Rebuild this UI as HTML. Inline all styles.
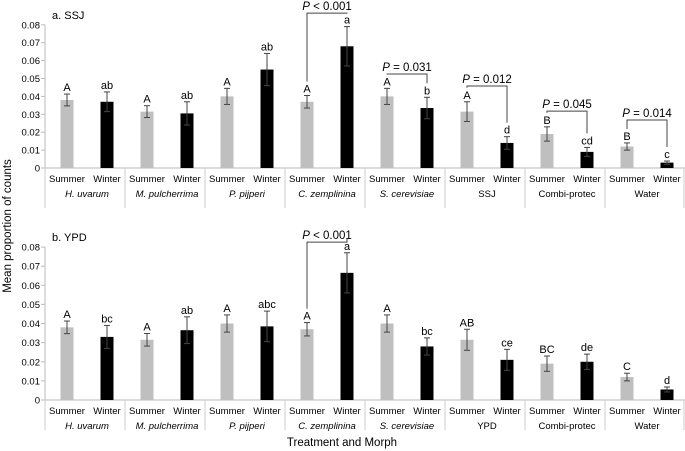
<!DOCTYPE html>
<html><head><meta charset="utf-8"><style>
html,body{margin:0;padding:0;background:#fff}
svg{display:block;font-family:"Liberation Sans",Arial,sans-serif}
</style></head><body>
<svg id="chart" width="685" height="451" viewBox="0 0 685 451"></svg>
<script>
const groups=["H. uvarum","M. pulcherrima","P. pijperi","C. zemplinina","S. cerevisiae","SSJ","Combi-protec","Water"];
const italicGroups=[true,true,true,true,true,false,false,false];
const groupsB=["H. uvarum","M. pulcherrima","P. pijperi","C. zemplinina","S. cerevisiae","YPD","Combi-protec","Water"];
const yTicks=[0,0.01,0.02,0.03,0.04,0.05,0.06,0.07,0.08];
const yTickLabels=["0","0.01","0.02","0.03","0.04","0.05","0.06","0.07","0.08"];
const aSummer=[0.038,0.0315,0.040,0.037,0.040,0.0315,0.019,0.012];
const aSummerErr=[0.0033,0.0033,0.0045,0.0035,0.0045,0.0055,0.004,0.002];
const aWinter=[0.037,0.0305,0.055,0.068,0.0335,0.014,0.009,0.003];
const aWinterErr=[0.0055,0.0065,0.009,0.011,0.006,0.0035,0.0025,0.0009];
const aSummerLbl=["A","A","A","A","A","A","B","B"];
const aWinterLbl=["ab","ab","ab","a","b","d","cd","c"];
const aBrackets=[{g:3,text:"< 0.001",y:0.0865},{g:4,text:"= 0.031",y:0.0525},{g:5,text:"= 0.012",y:0.0458},{g:6,text:"= 0.045",y:0.0318},{g:7,text:"= 0.014",y:0.0268}];
const bSummer=[0.038,0.0315,0.040,0.037,0.040,0.0315,0.019,0.012];
const bSummerErr=[0.0033,0.0033,0.0045,0.0035,0.0045,0.0055,0.004,0.002];
const bWinter=[0.033,0.0365,0.0385,0.0665,0.028,0.021,0.020,0.0055];
const bWinterErr=[0.006,0.007,0.008,0.0105,0.0045,0.0055,0.004,0.0013];
const bSummerLbl=["A","A","A","A","A","AB","BC","C"];
const bWinterLbl=["bc","ab","abc","a","bc","ce","de","d"];
const bBrackets=[{g:3,text:"< 0.001",y:0.0826}];

const svg=document.getElementById('chart');
const NS="http://www.w3.org/2000/svg";
function mk(tag,attrs,parent){const e=document.createElementNS(NS,tag);for(const k in attrs)e.setAttribute(k,attrs[k]);(parent||svg).appendChild(e);return e;}
const x0=45,gw=80;
function panel(p){
  const g=mk('g',{});
  
  
  const y=v=>p.zero-v*p.scale;
  mk('line',{x1:x0,x2:x0,y1:y(0.08),y2:p.zero,stroke:'#bbb'},g);
  mk('line',{x1:x0,x2:685,y1:p.zero,y2:p.zero,stroke:'#bbb'},g);
  yTicks.forEach((t,i)=>{
    mk('line',{x1:x0-4,x2:x0,y1:y(t),y2:y(t),stroke:'#bbb'},g);
    const tx=mk('text',{x:x0-5,y:y(t)+3.5,'text-anchor':'end','font-size':'9.5'},g);
    tx.textContent=yTickLabels[i];
    
    
  });
  for(let i=0;i<=8;i++){
    const xx=x0+i*gw-(i==8?1:0);
    mk('line',{x1:xx,x2:xx,y1:p.zero,y2:p.zero+p.divLen,stroke:'#ccc'},g);
  }
  p.groups.forEach((name,i)=>{
    const gx=x0+i*gw;
    [[p.s,p.se,p.sl,'#bfbfbf',22,'Summer'],[p.w,p.we,p.wl,'#000',62,'Winter']].forEach(([vals,errs,lbls,col,off,sn])=>{
      const cx=gx+off,v=vals[i],e=errs[i];
      const r=mk('rect',{x:cx-6.5,y:y(v),width:13,height:p.zero-y(v),fill:col},g);
      
      
      mk('line',{x1:cx,x2:cx,y1:y(v+e),y2:y(v-e),stroke:'#444'},g);
      mk('line',{x1:cx-3,x2:cx+3,y1:y(v+e),y2:y(v+e),stroke:'#444'},g);
      mk('line',{x1:cx-3,x2:cx+3,y1:y(v-e),y2:y(v-e),stroke:'#444'},g);
      const l=mk('text',{x:cx,y:y(v+e)-3,'text-anchor':'middle','font-size':'11'},g);
      l.textContent=lbls[i];
      
      
      const c=mk('text',{x:cx,y:p.zero+14,'text-anchor':'middle','font-size':'9.5'},g);
      c.textContent=sn;
      
      
    });
    const gl=mk('text',{x:gx+42,y:p.zero+29,'text-anchor':'middle','font-size':'9.5','font-style':italicGroups[i]?'italic':'normal'},g);
    gl.textContent=name;
    
    
  });
  p.br.forEach(b=>{
    const gx=x0+b.g*gw,x1=gx+22,x2=gx+62,by=y(b.y);
    const s1=y(p.s[b.g]+p.se[b.g])-14, s2=y(p.w[b.g]+p.we[b.g])-14;
    mk('polyline',{points:`${x1},${s1} ${x1},${by} ${x2},${by} ${x2},${s2}`,fill:'none',stroke:'#444'},g);
    const t=mk('text',{x:(x1+x2)/2,y:by-3,'text-anchor':'middle','font-size':'11.5'},g);
    t.innerHTML='<tspan font-style="italic">P</tspan> '+b.text;
    
    
  });
  const tt=mk('text',{x:52,y:p.titleY,'font-size':'11'},g);
  tt.textContent=p.title;
  
  
}
panel({name:'panel-a-ssj',zero:168,scale:1790,divLen:40,groups:groups,s:aSummer,se:aSummerErr,sl:aSummerLbl,w:aWinter,we:aWinterErr,wl:aWinterLbl,br:aBrackets,title:'a. SSJ',titleY:19});
panel({name:'panel-b-ypd',zero:400,scale:1912,divLen:30,groups:groupsB,s:bSummer,se:bSummerErr,sl:bSummerLbl,w:bWinter,we:bWinterErr,wl:bWinterLbl,br:bBrackets,title:'b. YPD',titleY:241});
const yt=mk('text',{x:0,y:0,'text-anchor':'middle','font-size':'11.5',transform:'translate(11,226) rotate(-90)'});
yt.textContent='Mean proportion of counts';


const xt=mk('text',{x:342,y:446,'text-anchor':'middle','font-size':'11.5'});
xt.textContent='Treatment and Morph';


</script>
</body></html>
